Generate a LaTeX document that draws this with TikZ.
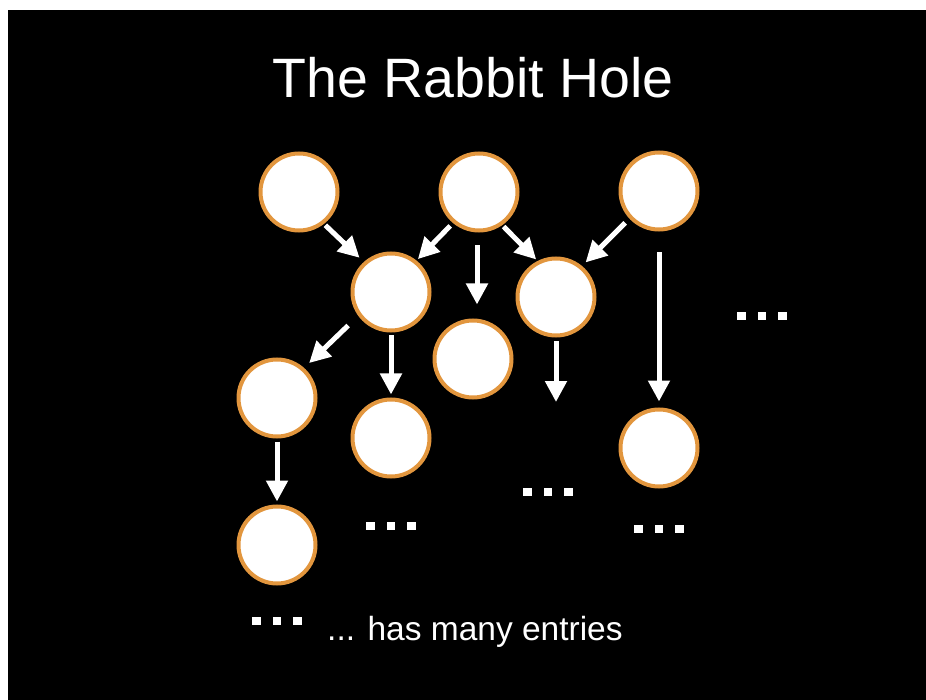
\documentclass[tikz,border=0pt]{standalone}
\usepackage{fontspec}
\setmainfont{Liberation Sans}
\usetikzlibrary{arrows.meta}
\definecolor{ringorange}{RGB}{226,150,62}
\tikzset{
  dotrow/.pic={\foreach \dx in {-20.5,0,20.5} \fill[white] (\dx-4.25,-4.25) rectangle (\dx+4.25,4.25);}
}
\begin{document}
\begin{tikzpicture}[x=1pt,y=-1pt,
  hole/.style={circle, draw=ringorange, fill=white, line width=4pt, minimum size=77pt, inner sep=0pt, outer sep=2pt},
  arr/.style={draw=white, line width=5pt, -{Triangle[width=21pt,length=21pt]}},
  label/.style={text=white, inner sep=0pt}]
\useasboundingbox (0,0) rectangle (926,700);
\fill[white] (0,0) rectangle (926,700);
\fill[black] (8,10) rectangle (926,700);

\node[label, anchor=base, font=\fontsize{55.5}{62}\selectfont] (title) at (473,98) {The Rabbit Hole};

\node[hole] (A) at (299,192) {};
\node[hole] (B) at (479,192) {};
\node[hole] (C) at (659,191) {};
\node[hole] (D) at (391,292) {};
\node[hole] (E) at (556,297) {};
\node[hole] (F) at (473,359) {};
\node[hole] (G) at (277,398) {};
\node[hole] (H) at (391,438) {};
\node[hole] (I) at (659,448) {};
\node[hole] (J) at (277,545) {};

\coordinate (e2) at (556,402);

\draw[arr, shorten <=2pt, shorten >=6pt] (A.-52) -- (D.132);
\draw[arr, shorten <=4pt, shorten >=2pt] (B.230) -- (D.51);
\draw[arr, shorten <=2pt, shorten >=2pt] (B.-55) -- (E.117);
\draw[arr, shorten <=6pt, shorten >=5pt] (C.223) -- (E.50);
\draw[arr, shorten <=14pt, shorten >=7pt] (D.216) -- (G.48.5);
\draw[arr, shorten <=13pt, shorten >=14pt] ([xshift=-2pt]B.south) -- ([xshift=-2pt]B.south |- F.north);
\draw[arr, shorten <=3pt, shorten >=3pt] (D.south) -- (H.north);
\draw[arr, shorten <=4pt] (E.south) -- (e2);
\draw[arr, shorten <=21pt, shorten >=6pt] (C.south) -- (I.north);
\draw[arr, shorten <=3pt, shorten >=3pt] (G.south) -- (J.north);

\pic at (391,526) {dotrow};
\pic at (548,492) {dotrow};
\pic at (659,529) {dotrow};
\pic at (762,316) {dotrow};
\pic at (277,621) {dotrow};

\node[label, anchor=base west, font=\fontsize{33.5}{40}\selectfont] (legend) at (327,640) {... has many entries};
\end{tikzpicture}
\end{document}
